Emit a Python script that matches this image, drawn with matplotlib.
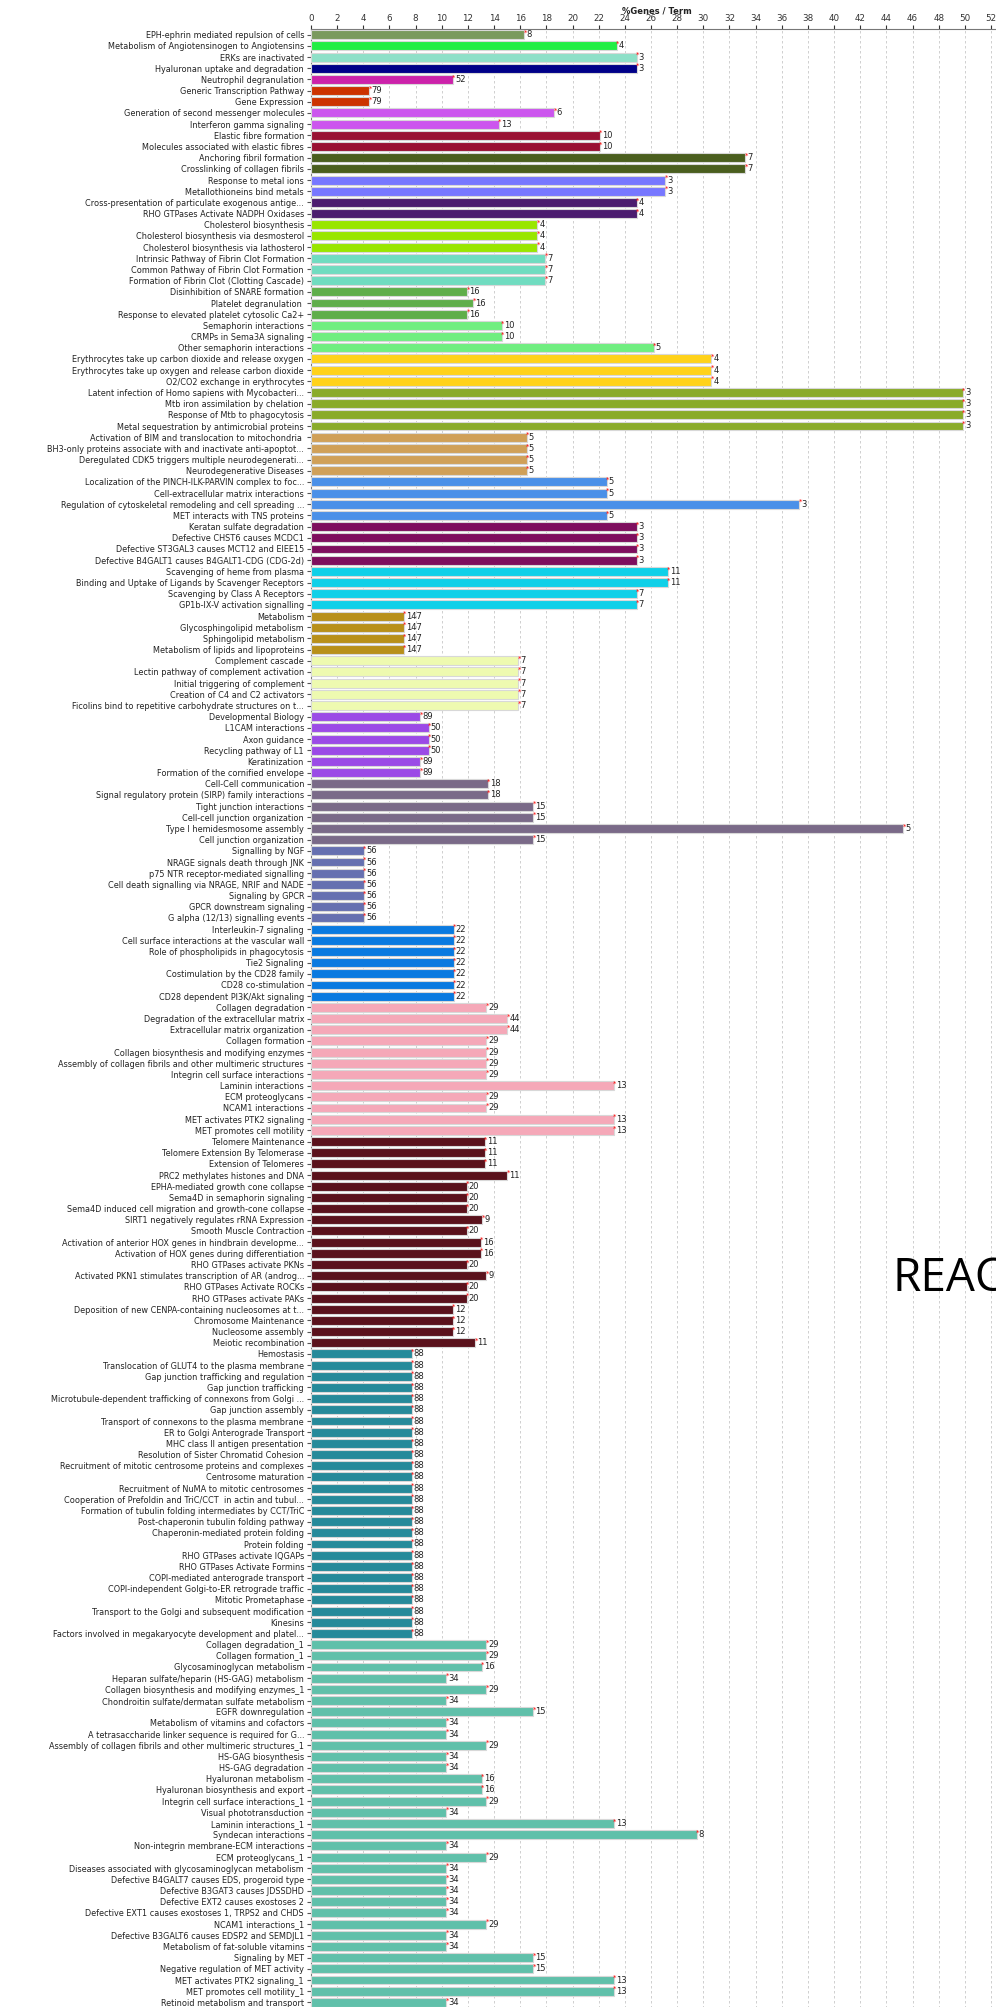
import matplotlib
matplotlib.use("Agg")
import matplotlib.pyplot as plt

# pathway names, top to bottom
labels = [
    "EPH-ephrin mediated repulsion of cells",
    "Metabolism of Angiotensinogen to Angiotensins",
    "ERKs are inactivated",
    "Hyaluronan uptake and degradation",
    "Neutrophil degranulation",
    "Generic Transcription Pathway",
    "Gene Expression",
    "Generation of second messenger molecules",
    "Interferon gamma signaling",
    "Elastic fibre formation",
    "Molecules associated with elastic fibres",
    "Anchoring fibril formation",
    "Crosslinking of collagen fibrils",
    "Response to metal ions",
    "Metallothioneins bind metals",
    "Cross-presentation of particulate exogenous antige...",
    "RHO GTPases Activate NADPH Oxidases",
    "Cholesterol biosynthesis",
    "Cholesterol biosynthesis via desmosterol",
    "Cholesterol biosynthesis via lathosterol",
    "Intrinsic Pathway of Fibrin Clot Formation",
    "Common Pathway of Fibrin Clot Formation",
    "Formation of Fibrin Clot (Clotting Cascade)",
    "Disinhibition of SNARE formation",
    "Platelet degranulation ",
    "Response to elevated platelet cytosolic Ca2+",
    "Semaphorin interactions",
    "CRMPs in Sema3A signaling",
    "Other semaphorin interactions",
    "Erythrocytes take up carbon dioxide and release oxygen",
    "Erythrocytes take up oxygen and release carbon dioxide",
    "O2/CO2 exchange in erythrocytes",
    "Latent infection of Homo sapiens with Mycobacteri...",
    "Mtb iron assimilation by chelation",
    "Response of Mtb to phagocytosis",
    "Metal sequestration by antimicrobial proteins",
    "Activation of BIM and translocation to mitochondria ",
    "BH3-only proteins associate with and inactivate anti-apoptot...",
    "Deregulated CDK5 triggers multiple neurodegenerati...",
    "Neurodegenerative Diseases",
    "Localization of the PINCH-ILK-PARVIN complex to foc...",
    "Cell-extracellular matrix interactions",
    "Regulation of cytoskeletal remodeling and cell spreading ...",
    "MET interacts with TNS proteins",
    "Keratan sulfate degradation",
    "Defective CHST6 causes MCDC1",
    "Defective ST3GAL3 causes MCT12 and EIEE15",
    "Defective B4GALT1 causes B4GALT1-CDG (CDG-2d)",
    "Scavenging of heme from plasma",
    "Binding and Uptake of Ligands by Scavenger Receptors",
    "Scavenging by Class A Receptors",
    "GP1b-IX-V activation signalling",
    "Metabolism",
    "Glycosphingolipid metabolism",
    "Sphingolipid metabolism",
    "Metabolism of lipids and lipoproteins",
    "Complement cascade",
    "Lectin pathway of complement activation",
    "Initial triggering of complement",
    "Creation of C4 and C2 activators",
    "Ficolins bind to repetitive carbohydrate structures on t...",
    "Developmental Biology",
    "L1CAM interactions",
    "Axon guidance",
    "Recycling pathway of L1",
    "Keratinization",
    "Formation of the cornified envelope",
    "Cell-Cell communication",
    "Signal regulatory protein (SIRP) family interactions",
    "Tight junction interactions",
    "Cell-cell junction organization",
    "Type I hemidesmosome assembly",
    "Cell junction organization",
    "Signalling by NGF",
    "NRAGE signals death through JNK",
    "p75 NTR receptor-mediated signalling",
    "Cell death signalling via NRAGE, NRIF and NADE",
    "Signaling by GPCR",
    "GPCR downstream signaling",
    "G alpha (12/13) signalling events",
    "Interleukin-7 signaling",
    "Cell surface interactions at the vascular wall",
    "Role of phospholipids in phagocytosis",
    "Tie2 Signaling",
    "Costimulation by the CD28 family",
    "CD28 co-stimulation",
    "CD28 dependent PI3K/Akt signaling",
    "Collagen degradation",
    "Degradation of the extracellular matrix",
    "Extracellular matrix organization",
    "Collagen formation",
    "Collagen biosynthesis and modifying enzymes",
    "Assembly of collagen fibrils and other multimeric structures",
    "Integrin cell surface interactions",
    "Laminin interactions",
    "ECM proteoglycans",
    "NCAM1 interactions",
    "MET activates PTK2 signaling",
    "MET promotes cell motility",
    "Telomere Maintenance",
    "Telomere Extension By Telomerase",
    "Extension of Telomeres",
    "PRC2 methylates histones and DNA",
    "EPHA-mediated growth cone collapse",
    "Sema4D in semaphorin signaling",
    "Sema4D induced cell migration and growth-cone collapse",
    "SIRT1 negatively regulates rRNA Expression",
    "Smooth Muscle Contraction",
    "Activation of anterior HOX genes in hindbrain developme...",
    "Activation of HOX genes during differentiation",
    "RHO GTPases activate PKNs",
    "Activated PKN1 stimulates transcription of AR (androg...",
    "RHO GTPases Activate ROCKs",
    "RHO GTPases activate PAKs",
    "Deposition of new CENPA-containing nucleosomes at t...",
    "Chromosome Maintenance",
    "Nucleosome assembly",
    "Meiotic recombination",
    "Hemostasis",
    "Translocation of GLUT4 to the plasma membrane",
    "Gap junction trafficking and regulation",
    "Gap junction trafficking",
    "Microtubule-dependent trafficking of connexons from Golgi ...",
    "Gap junction assembly",
    "Transport of connexons to the plasma membrane",
    "ER to Golgi Anterograde Transport",
    "MHC class II antigen presentation",
    "Resolution of Sister Chromatid Cohesion",
    "Recruitment of mitotic centrosome proteins and complexes",
    "Centrosome maturation",
    "Recruitment of NuMA to mitotic centrosomes",
    "Cooperation of Prefoldin and TriC/CCT  in actin and tubul...",
    "Formation of tubulin folding intermediates by CCT/TriC",
    "Post-chaperonin tubulin folding pathway",
    "Chaperonin-mediated protein folding",
    "Protein folding",
    "RHO GTPases activate IQGAPs",
    "RHO GTPases Activate Formins",
    "COPI-mediated anterograde transport",
    "COPI-independent Golgi-to-ER retrograde traffic",
    "Mitotic Prometaphase",
    "Transport to the Golgi and subsequent modification",
    "Kinesins",
    "Factors involved in megakaryocyte development and platel...",
    "Collagen degradation_1",
    "Collagen formation_1",
    "Glycosaminoglycan metabolism",
    "Heparan sulfate/heparin (HS-GAG) metabolism",
    "Collagen biosynthesis and modifying enzymes_1",
    "Chondroitin sulfate/dermatan sulfate metabolism",
    "EGFR downregulation",
    "Metabolism of vitamins and cofactors",
    "A tetrasaccharide linker sequence is required for G...",
    "Assembly of collagen fibrils and other multimeric structures_1",
    "HS-GAG biosynthesis",
    "HS-GAG degradation",
    "Hyaluronan metabolism",
    "Hyaluronan biosynthesis and export",
    "Integrin cell surface interactions_1",
    "Visual phototransduction",
    "Laminin interactions_1",
    "Syndecan interactions",
    "Non-integrin membrane-ECM interactions",
    "ECM proteoglycans_1",
    "Diseases associated with glycosaminoglycan metabolism",
    "Defective B4GALT7 causes EDS, progeroid type",
    "Defective B3GAT3 causes JDSSDHD",
    "Defective EXT2 causes exostoses 2",
    "Defective EXT1 causes exostoses 1, TRPS2 and CHDS",
    "NCAM1 interactions_1",
    "Defective B3GALT6 causes EDSP2 and SEMDJL1",
    "Metabolism of fat-soluble vitamins",
    "Signaling by MET",
    "Negative regulation of MET activity",
    "MET activates PTK2 signaling_1",
    "MET promotes cell motility_1",
    "Retinoid metabolism and transport",
]

# %Genes / Term
values = [
    16.3, 23.4, 24.9, 24.9, 10.85, 4.47, 4.47, 18.6, 14.35, 22.1, 22.1, 33.2, 33.2,
    27.1, 27.1, 24.9, 24.9, 17.3, 17.3, 17.3, 17.9, 17.9, 17.9,
    11.96, 12.4, 11.96, 14.6, 14.6, 26.2, 30.6, 30.6, 30.6,
    49.85, 49.85, 49.85, 49.85, 16.5, 16.5, 16.5, 16.5,
    22.6, 22.6, 37.35, 22.6, 24.9, 24.9, 24.9, 24.9,
    27.3, 27.3, 24.9, 24.9, 7.1, 7.1, 7.1, 7.1,
    15.85, 15.85, 15.85, 15.85, 15.85,
    8.37, 9.0, 9.0, 9.0, 8.37, 8.37,
    13.5, 13.5, 17.0, 17.0, 45.3, 17.0,
    4.04, 4.04, 4.04, 4.04, 4.04, 4.04, 4.04,
    10.9, 10.9, 10.9, 10.9, 10.9, 10.9, 10.9,
    13.4, 15.0, 15.0, 13.4, 13.4, 13.4, 13.4, 23.15, 13.4, 13.4, 23.15, 23.15,
    13.3, 13.3, 13.3, 15.0, 11.9, 11.9, 11.9, 13.1, 11.9, 13.0, 13.0, 11.9,
    13.4, 11.9, 11.9, 10.85, 10.85, 10.85, 12.55,
    7.7, 7.7, 7.7, 7.7, 7.7, 7.7, 7.7, 7.7, 7.7, 7.7, 7.7, 7.7, 7.7,
    7.7, 7.7, 7.7, 7.7, 7.7, 7.7, 7.7, 7.7, 7.7, 7.7, 7.7, 7.7, 7.7,
    13.4, 13.4, 13.05, 10.35, 13.4, 10.35, 17.0, 10.35, 10.35, 13.4, 10.35,
    10.35, 13.05, 13.05, 13.4, 10.35, 23.15, 29.5, 10.35, 13.4, 10.35,
    10.35, 10.35, 10.35, 10.35, 13.4, 10.35, 10.35, 17.0, 17.0, 23.15, 23.15, 10.35,
]

# number printed after each bar
counts = [
    "8", "4", "3", "3", "52", "79", "79", "6", "13", "10", "10", "7", "7",
    "3", "3", "4", "4", "4", "4", "4", "7", "7", "7",
    "16", "16", "16", "10", "10", "5", "4", "4", "4",
    "3", "3", "3", "3", "5", "5", "5", "5",
    "5", "5", "3", "5", "3", "3", "3", "3",
    "11", "11", "7", "7", "147", "147", "147", "147",
    "7", "7", "7", "7", "7",
    "89", "50", "50", "50", "89", "89",
    "18", "18", "15", "15", "5", "15",
    "56", "56", "56", "56", "56", "56", "56",
    "22", "22", "22", "22", "22", "22", "22",
    "29", "44", "44", "29", "29", "29", "29", "13", "29", "29", "13", "13",
    "11", "11", "11", "11", "20", "20", "20", "9", "20", "16", "16", "20",
    "9", "20", "20", "12", "12", "12", "11",
] + ["88"] * 26 + [
    "29", "29", "16", "34", "29", "34", "15", "34", "34", "29", "34",
    "34", "16", "16", "29", "34", "13", "8", "34", "29", "34",
    "34", "34", "34", "34", "29", "34", "34", "15", "15", "13", "13", "34",
]

# cluster colours and how many bars each cluster has
group_colors = [
    "#7a9a5e", "#22ee44", "#8ee0c8", "#000088", "#cc22aa", "#cc3300",
    "#cc55ee", "#991133", "#4a5e1e", "#7777ff", "#4b1c6e", "#99e600",
    "#70dcc0", "#5fae4a", "#70ee80", "#ffd21a", "#8aab2a", "#d0a058",
    "#4a90e8", "#7e0e5e", "#10d0e8", "#b8901a", "#eefab0", "#9b4ae6",
    "#7a6a88", "#6670b0", "#0a7ae0", "#f5a8b8", "#5a121c", "#268a9a",
    "#60c0aa",
]
group_sizes = [1, 1, 1, 1, 1, 2, 2, 2, 2, 2, 2, 3, 3, 3, 3, 3, 4, 4, 4, 4, 4,
               4, 5, 6, 6, 7, 7, 12, 19, 26, 33]

bar_colors = []
for c, n in zip(group_colors, group_sizes):
    bar_colors += [c] * n

W, H = 996, 2007
fig = plt.figure(figsize=(W / 100, H / 100), dpi=100)

# axes placed in pixels: x=0 at 311 px, 13.08 px per unit; rows 11.18 px apart
n = len(labels)
x_left = 311
px_unit = (991 - 311) / 52
xmax = 53
row = 11.18
top = 34.7 - row / 2
bottom = top + n * row
ax = fig.add_axes([x_left / W, 1 - bottom / H, xmax * px_unit / W, n * row / H])

ypos = list(range(n))
ax.barh(ypos, values, height=0.8, color=bar_colors, edgecolor="#d8d8d8",
        linewidth=0.8, zorder=3)

for i, (v, c) in enumerate(zip(values, counts)):
    ax.annotate("*", xy=(v, i), xytext=(-0.5, 1.5), textcoords="offset points",
                ha="left", va="center", color="red", fontsize=5, zorder=5)
    ax.annotate(c, xy=(v, i), xytext=(1.5, 0), textcoords="offset points",
                ha="left", va="center", color="#222222", fontsize=6, zorder=4)

ax.set_xlim(0, xmax)
ax.set_ylim(n - 0.5, -0.5)
ax.set_yticks(ypos)
ax.set_yticklabels(labels, fontsize=5.9, color="#222222")
ax.set_xticks(range(0, 53, 2))
ax.xaxis.tick_top()
ax.tick_params(axis="x", labelsize=6.3, length=3, pad=1.5, colors="#333333")
ax.tick_params(axis="y", length=3, pad=2, colors="#555555", labelcolor="#222222")
ax.grid(axis="x", linestyle=(0, (3, 3)), color="#c8c8c8", linewidth=0.6, zorder=0)
for s in ["right", "bottom"]:
    ax.spines[s].set_visible(False)
ax.spines["top"].set_color("#777777")
ax.spines["left"].set_color("#777777")

fig.text(657 / W, 1 - 11 / H, "%Genes / Term", ha="center", va="center",
         fontsize=6, fontweight="bold", color="#222222")

# big stray text on the right edge (cut off in the original too)
fig.text(892 / W, 1 - 1279 / H, "REAC", ha="left", va="center",
         fontsize=33, family="Open Sans", color="black")

fig.savefig("out.png", dpi=100)
